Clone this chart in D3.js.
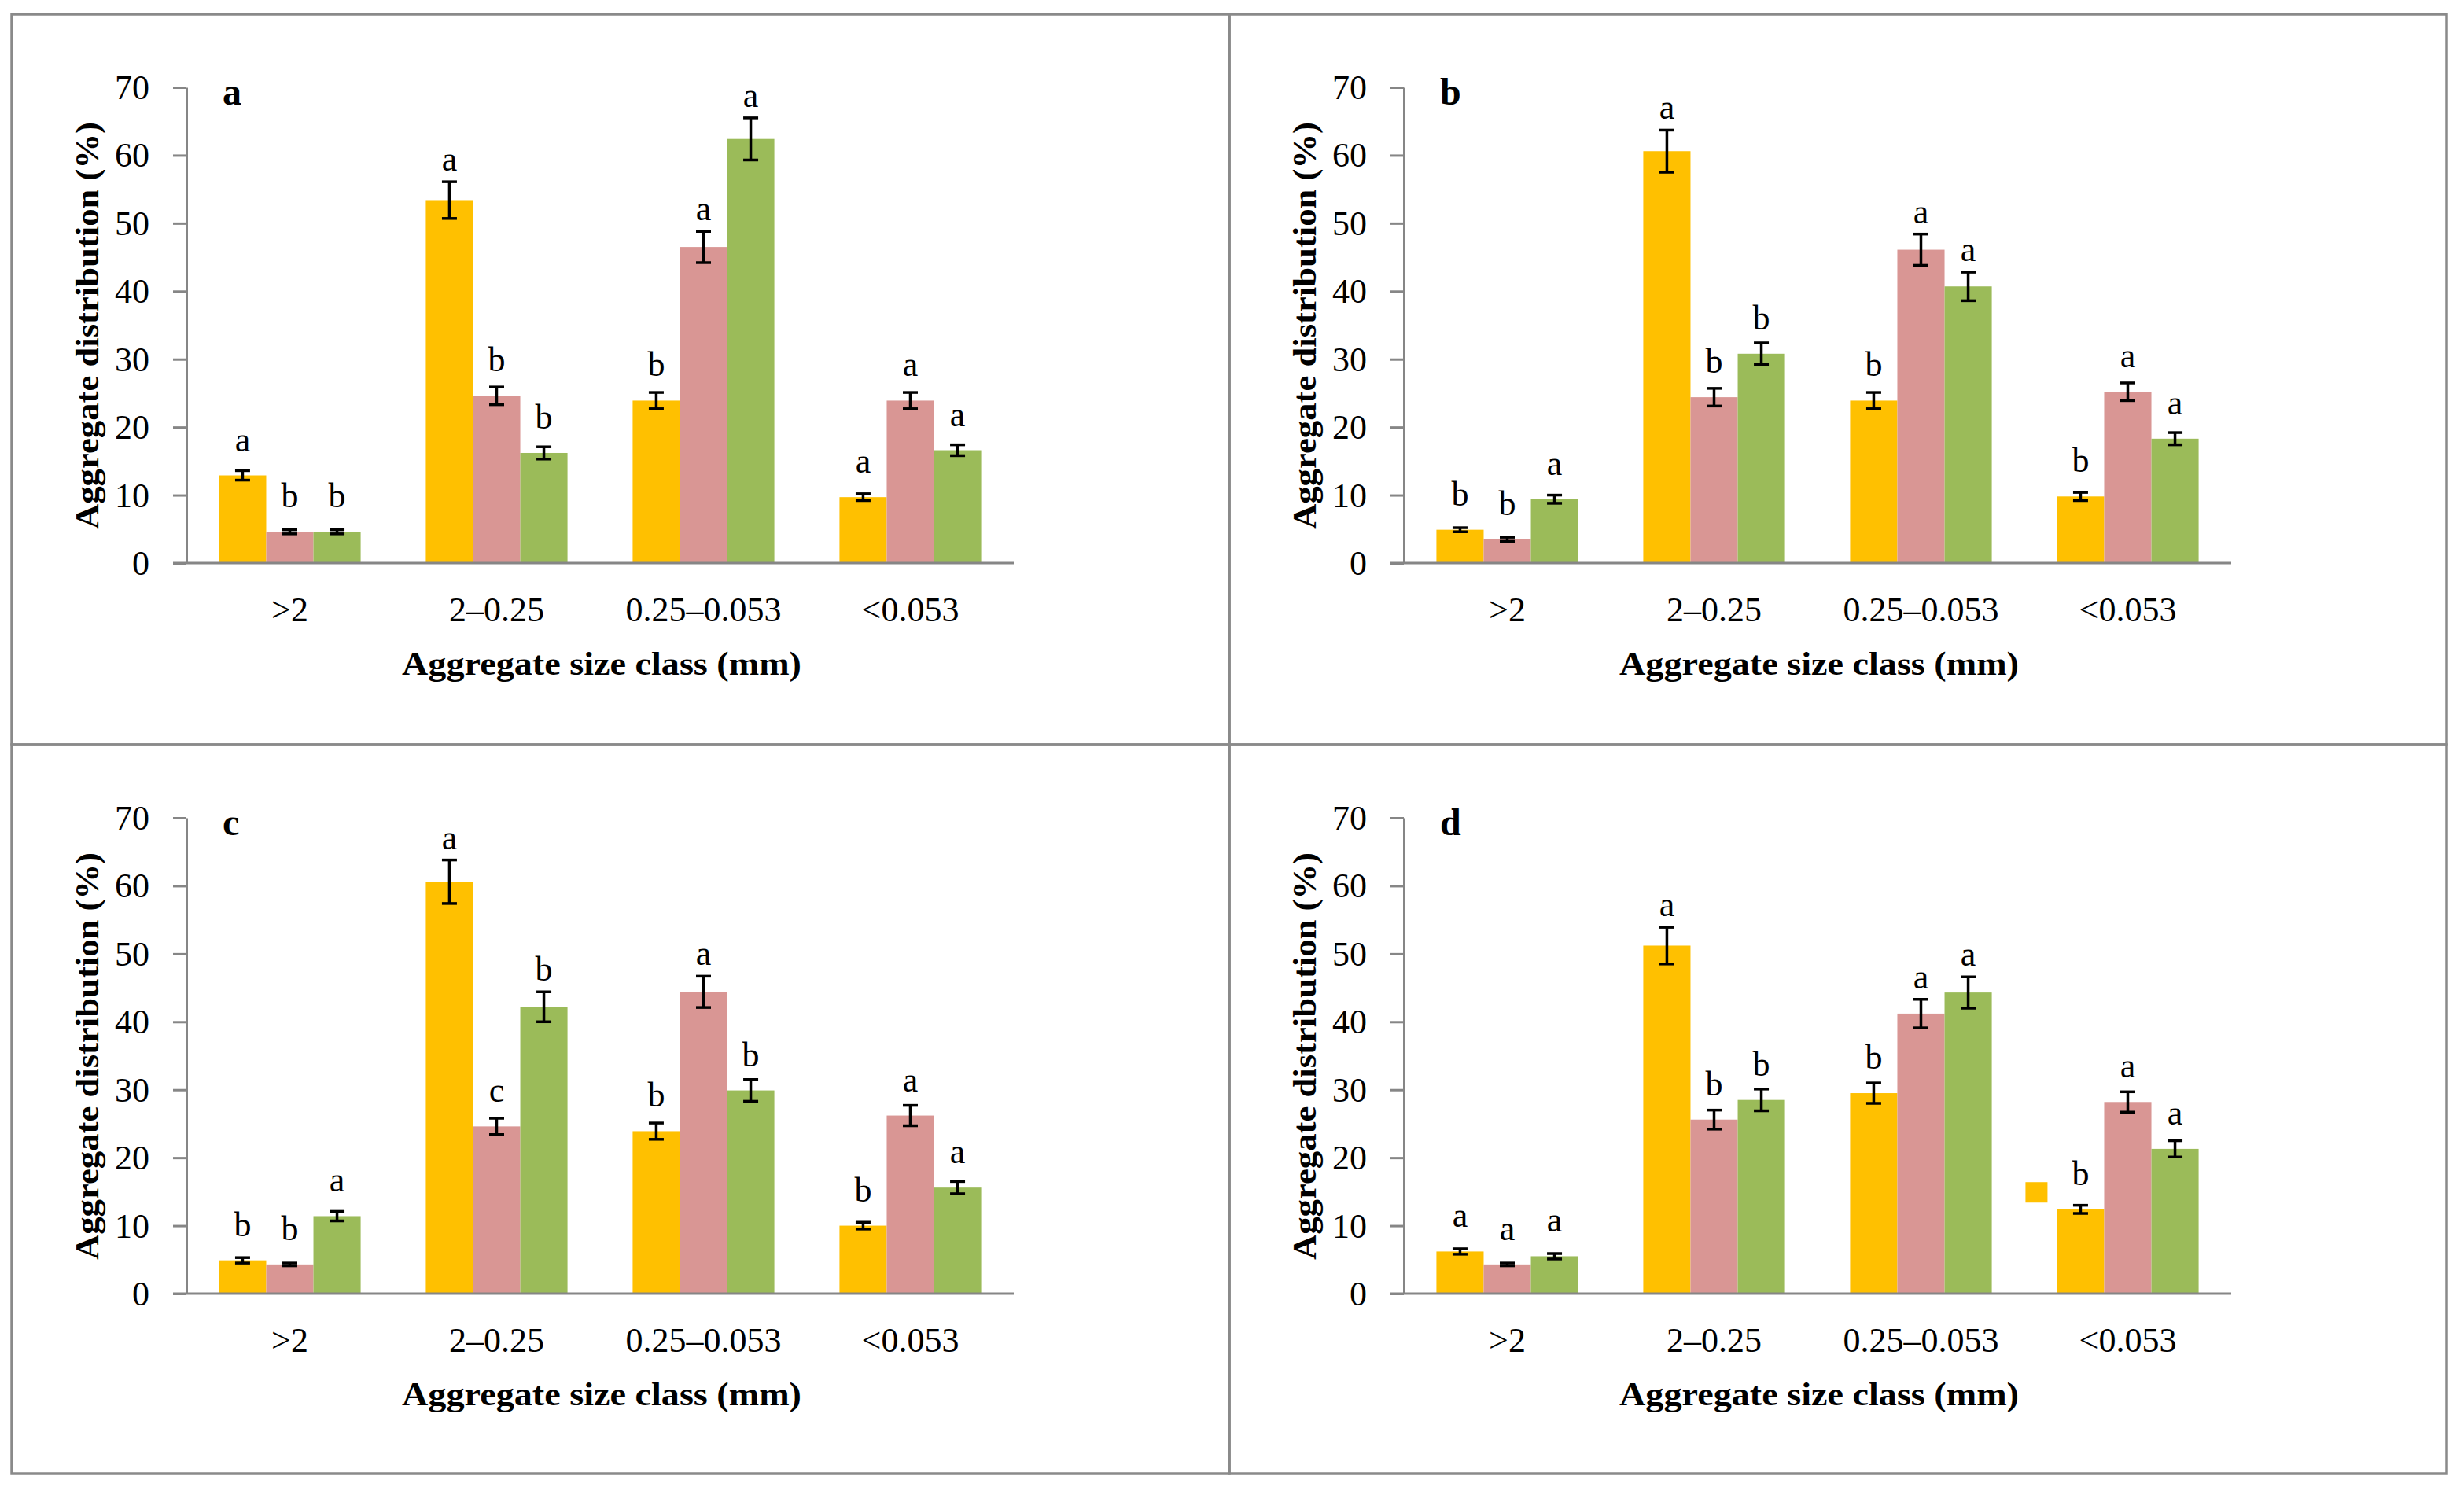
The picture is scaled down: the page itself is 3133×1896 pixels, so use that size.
<!DOCTYPE html>
<html>
<head>
<meta charset="utf-8">
<script src="https://cdn.jsdelivr.net/npm/d3@7"></script>
<style>
  body { margin: 0; background: #fff; }
  svg { display: block; }
  text { font-family: "Liberation Serif", "Times New Roman", serif; fill: #000; }
</style>
</head>
<body>
<svg id="chart" width="3133" height="1896"></svg>
<script>
// Storleksklasser och serier
const categories = [">2", "2–0.25", "0.25–0.053", "<0.053"];
const seriesColors = ["#FFC000", "#D99694", "#9BBB59"];
const yTicks = [0, 10, 20, 30, 40, 50, 60, 70];
const panelLetters = ["a", "b", "c", "d"];

// medelvärden per klass: [gul, rosa, grön]
const meansA = [[12.9, 4.6, 4.6], [53.4, 24.6, 16.2], [23.9, 46.5, 62.4], [9.7, 23.9, 16.6]];
const errorsA = [[0.7, 0.3, 0.3], [2.7, 1.3, 0.9], [1.2, 2.3, 3.1], [0.5, 1.2, 0.8]];
const lettersA = [["a", "b", "b"], ["a", "b", "b"], ["b", "a", "a"], ["a", "a", "a"]];

const meansB = [[4.9, 3.5, 9.4], [60.6, 24.4, 30.8], [23.9, 46.1, 40.7], [9.8, 25.2, 18.3]];
const errorsB = [[0.3, 0.3, 0.6], [3.1, 1.3, 1.6], [1.2, 2.3, 2.1], [0.6, 1.3, 0.9]];
const lettersB = [["b", "b", "a"], ["a", "b", "b"], ["b", "a", "a"], ["b", "a", "a"]];

const meansC = [[4.9, 4.3, 11.4], [60.6, 24.6, 42.2], [23.9, 44.4, 29.9], [10.0, 26.2, 15.6]];
const errorsC = [[0.4, 0.2, 0.7], [3.2, 1.2, 2.2], [1.2, 2.3, 1.6], [0.5, 1.5, 0.9]];
const lettersC = [["b", "b", "a"], ["a", "c", "b"], ["b", "a", "b"], ["b", "a", "a"]];

const meansD = [[6.2, 4.3, 5.5], [51.2, 25.6, 28.5], [29.5, 41.2, 44.3], [12.4, 28.2, 21.3]];
const errorsD = [[0.4, 0.2, 0.4], [2.7, 1.4, 1.6], [1.5, 2.1, 2.3], [0.6, 1.5, 1.2]];
const lettersD = [["a", "a", "a"], ["a", "b", "b"], ["b", "a", "a"], ["b", "a", "a"]];

const panels = [
  { means: meansA, errors: errorsA, letters: lettersA, left: 15, top: 18, w: 1548, h: 929 },
  { means: meansB, errors: errorsB, letters: lettersB, left: 1563, top: 18, w: 1548, h: 929 },
  { means: meansC, errors: errorsC, letters: lettersC, left: 15, top: 947, w: 1548, h: 927 },
  { means: meansD, errors: errorsD, letters: lettersD, left: 1563, top: 947, w: 1548, h: 927 }
];

const svg = d3.select("#chart");
const axisColor = "#868686";

panels.forEach((p, pi) => {
  const g = svg.append("g").attr("transform", `translate(${p.left},${p.top})`);

  // ram
  g.append("rect")
    .attr("x", 0).attr("y", 0)
    .attr("width", p.w).attr("height", p.h)
    .attr("fill", "none")
    .attr("stroke", "#8a8a8a")
    .attr("stroke-width", 3.5);

  const x0 = 222, x1 = 1274, yBase = 698, yTop = 93;

  const x = d3.scaleBand().domain(categories).range([x0, x1])
    .paddingInner(0.315).paddingOuter(0.1575);
  const xs = d3.scaleBand().domain([0, 1, 2]).range([0, x.bandwidth()]);
  const y = d3.scaleLinear().domain([0, 70]).range([yBase, yTop]);

  // y-axel
  const yAxis = g.append("g")
    .attr("transform", `translate(${x0},0)`)
    .call(d3.axisLeft(y).tickValues(yTicks).tickSize(17).tickSizeOuter(0).tickPadding(30).tickFormat(d3.format("d")));
  yAxis.select(".domain").attr("stroke", axisColor).attr("stroke-width", 3);
  yAxis.selectAll(".tick line").attr("stroke", axisColor).attr("stroke-width", 3);
  yAxis.selectAll(".tick text")
    .style("font-family", "'Liberation Serif', serif")
    .style("font-size", "44px")
    .attr("fill", "#000")
    .attr("dy", "0.33em");

  // staplar
  p.means.forEach((row, ci) => {
    const cat = categories[ci];
    row.forEach((v, si) => {
      const bx = x(cat) + xs(si);
      const bw = xs.bandwidth();
      g.append("rect")
        .attr("x", bx).attr("y", y(v))
        .attr("width", bw).attr("height", y(0) - y(v))
        .attr("fill", seriesColors[si]);
    });
  });

  // x-axel (baslinje)
  g.append("line")
    .attr("x1", x0 - 17).attr("x2", x1)
    .attr("y1", y(0)).attr("y2", y(0))
    .attr("stroke", axisColor).attr("stroke-width", 3);

  // felstaplar och bokstäver
  p.means.forEach((row, ci) => {
    const cat = categories[ci];
    row.forEach((v, si) => {
      const cx = x(cat) + xs(si) + xs.bandwidth() / 2;
      const e = p.errors[ci][si];
      const eg = g.append("g").attr("stroke", "#000").attr("stroke-width", 3.5);
      eg.append("line").attr("x1", cx).attr("x2", cx).attr("y1", y(v - e)).attr("y2", y(v + e));
      eg.append("line").attr("x1", cx - 9.5).attr("x2", cx + 9.5).attr("y1", y(v - e)).attr("y2", y(v - e));
      eg.append("line").attr("x1", cx - 9.5).attr("x2", cx + 9.5).attr("y1", y(v + e)).attr("y2", y(v + e));

      const ly = Math.min(y(v) - 31, y(v + e) - 14);
      g.append("text")
        .attr("x", cx).attr("y", ly)
        .attr("text-anchor", "middle")
        .style("font-size", "44px")
        .text(p.letters[ci][si]);
    });
  });

  // kvarglömd förklaringsruta i panel d
  if (pi === 3) {
    const cat = categories[3];
    g.append("rect")
      .attr("x", x(cat) - 40).attr("y", y(14.9) - 13)
      .attr("width", 28).attr("height", 26)
      .attr("fill", seriesColors[0]);
  }

  // kategorietiketter
  categories.forEach(c => {
    g.append("text")
      .attr("x", x(c) + x.bandwidth() / 2)
      .attr("y", 772)
      .attr("text-anchor", "middle")
      .style("font-size", "44px")
      .text(c);
  });

  // axeltitlar
  g.append("text")
    .attr("x", (x0 + x1) / 2 + 2)
    .attr("y", 840)
    .attr("text-anchor", "middle")
    .attr("textLength", 508)
    .attr("lengthAdjust", "spacingAndGlyphs")
    .style("font-size", "42px")
    .style("font-weight", "700")
    .text("Aggregate size class (mm)");

  g.append("text")
    .attr("transform", `translate(110,396) rotate(-90)`)
    .attr("text-anchor", "middle")
    .attr("textLength", 518)
    .attr("lengthAdjust", "spacingAndGlyphs")
    .style("font-size", "42px")
    .style("font-weight", "700")
    .text("Aggregate distribution (%)");

  // panelbokstav
  g.append("text")
    .attr("x", 268).attr("y", 115)
    .style("font-size", "48px")
    .style("font-weight", "700")
    .text(panelLetters[pi]);
});
</script>
</body>
</html>
